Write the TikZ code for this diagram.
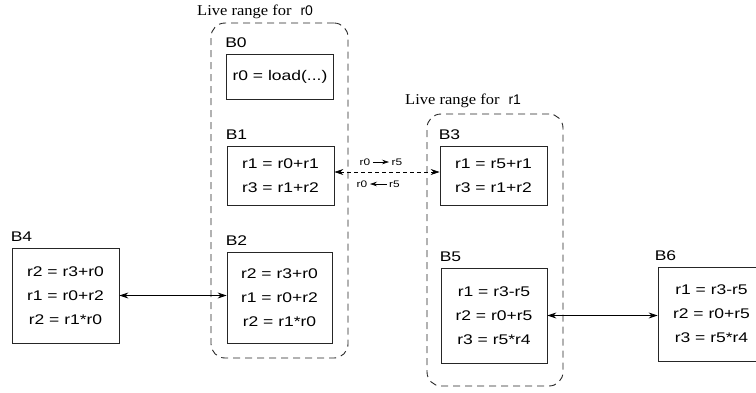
\documentclass[tikz,border=0pt]{standalone}
\usepackage{fontspec}
\setmainfont{Liberation Sans}
\newfontfamily\blockfont[FakeStretch=1.25]{Liberation Sans}
\newfontfamily\rangefont[FakeStretch=1.1]{Liberation Serif}
\usetikzlibrary{positioning,arrows.meta}
\tikzset{
  block/.style={draw=black!85, line width=0.8pt, minimum width=107pt, align=center,
     inner sep=0pt, font=\blockfont\fontsize{14pt}{24pt}\selectfont},
  blocklabel/.style={inner sep=0pt, font=\blockfont\fontsize{14pt}{16pt}\selectfont},
  liverange/.style={draw=black!85, dash pattern=on 7pt off 5pt, rounded corners=14pt,
     line width=0.9pt, inner sep=0pt},
  rangelabel/.style={inner sep=0pt, anchor=base west},
  flow/.style={{Stealth[length=9pt,width=6pt]}-{Stealth[length=9pt,width=6pt]}, line width=0.7pt},
  rename/.style={inner sep=2.5pt, font=\blockfont\fontsize{9.5pt}{10pt}\selectfont},
}

\begin{document}
\begin{tikzpicture}[x=1pt,y=-1pt]
        \useasboundingbox (0,0) rectangle (756,392);

        % Live ranges
        \node[liverange, minimum width=137pt, minimum height=335pt] (lr0) at (279.5,190.5) {};
        \node[liverange, minimum width=136pt, minimum height=272pt] (lr1) at (495,250) {};
        \node[rangelabel] (lr0 name) at (197,15) {{\rangefont\fontsize{15pt}{17pt}\selectfont Live range for}\hspace{9pt}{\fontsize{14pt}{16pt}\selectfont r0}};
        \node[rangelabel] (lr1 name) at (405,104) {{\rangefont\fontsize{15pt}{17pt}\selectfont Live range for}\hspace{9pt}{\fontsize{14pt}{16pt}\selectfont r1}};

        % Basic blocks
        \node[block, minimum height=45pt] (b0) at (280,76.5) {r0 = load(...)};
        \node[block, minimum height=59pt] (b1) at (280.5,175.5) {r1 = r0+r1\\ r3 = r1+r2};
        \node[block, minimum height=91pt, minimum width=105pt] (b2) at (279.5,297.5) {r2 = r3+r0\\ r1 = r0+r2\\ r2 = r1*r0};
        \node[block, minimum height=95pt] (b4) at (65.5,295.5) {r2 = r3+r0\\ r1 = r0+r2\\ r2 = r1*r0};
        \node[block, minimum height=59pt] (b3) at (493.5,175.5) {r1 = r5+r1\\ r3 = r1+r2};
        \node[block, minimum height=95pt, minimum width=106pt] (b5) at (494,315.5) {r1 = r3-r5\\ r2 = r0+r5\\ r3 = r5*r4};
        \node[block, minimum height=94pt] (b6) at (711.5,314) {r1 = r3-r5\\ r2 = r0+r5\\ r3 = r5*r4};

        % Block names
        \node[blocklabel, above right=6pt and -1pt of b0.north west] (b0 name) {B0};
        \node[blocklabel, above right=6pt and -1pt of b1.north west] (b1 name) {B1};
        \node[blocklabel, above right=6pt and -1pt of b2.north west] (b2 name) {B2};
        \node[blocklabel, above right=6pt and -1pt of b4.north west] (b4 name) {B4};
        \node[blocklabel, above right=6pt and -1pt of b3.north west] (b3 name) {B3};
        \node[blocklabel, above right=6pt and -1pt of b5.north west] (b5 name) {B5};
        \node[blocklabel, above right=6pt and -3pt of b6.north west] (b6 name) {B6};

        % Edges
        \draw[flow] (b4.east) -- (b4.east -| b2.west);
        \draw[flow] (b5.east) -- (b5.east -| b6.west);
        \draw[flow, dash pattern=on 4pt off 3pt] ([yshift=3.5pt]b1.east) -- ([yshift=3.5pt]b3.west);

        % Register renaming on the split edge
        \node[rename] (fwd r0) at (365,162) {r0};
        \node[rename] (fwd r5) at (397,162) {r5};
        \draw[-{Stealth[length=7pt,width=4.5pt]}, line width=0.6pt] (fwd r0) -- (fwd r5);
        \node[rename] (bwd r0) at (362,184) {r0};
        \node[rename] (bwd r5) at (394.5,184) {r5};
        \draw[{Stealth[length=7pt,width=4.5pt]}-, line width=0.6pt] (bwd r0) -- (bwd r5);
    \end{tikzpicture}
\end{document}
